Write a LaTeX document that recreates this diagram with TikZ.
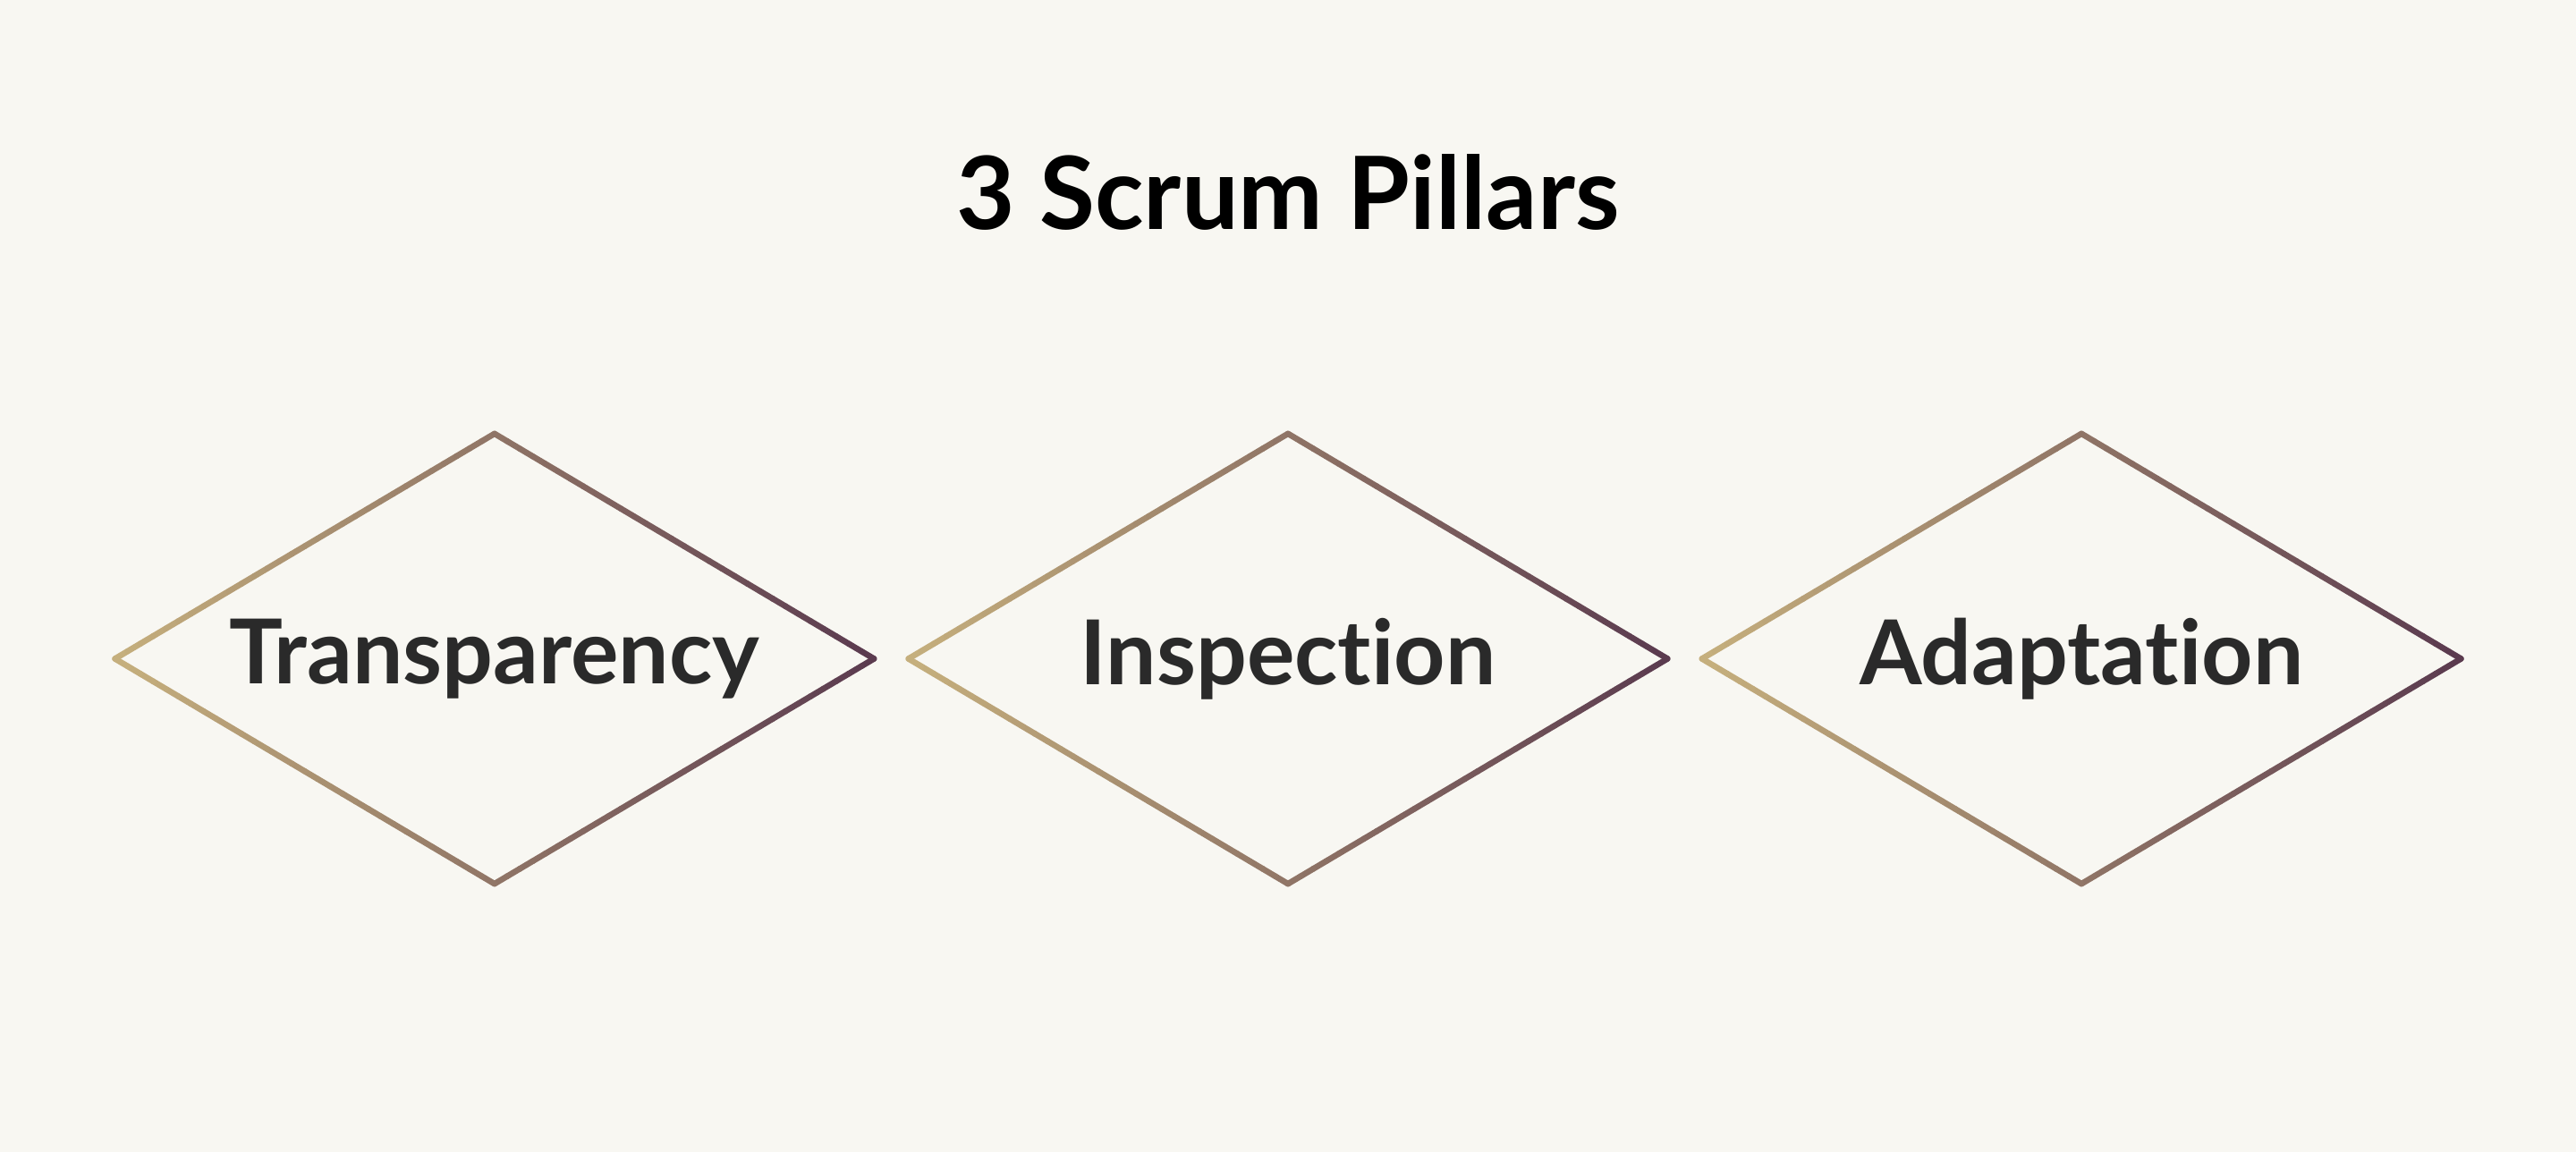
\documentclass[tikz,border=0pt]{standalone}
\usepackage{fontspec}
\setmainfont{Lato}[Ligatures=CommonOff]
\usetikzlibrary{shapes.geometric}
\definecolor{bg}{HTML}{F8F7F2}
\definecolor{tanc}{HTML}{C6B07D}
\definecolor{purc}{HTML}{5A3A4F}
\definecolor{txt}{HTML}{2A2A2A}
\tikzset{
  lbl/.style={font=\bfseries\fontsize{15.5}{18}\selectfont, text=txt, inner sep=0pt},
  ttl/.style={font=\bfseries\fontsize{17.5}{21}\selectfont, text=black, inner sep=0pt},
}
\newcommand{\gedge}[6]{% x1 y1 x2 y2 f1 f2
  \foreach \i in {0,...,29}{
    \pgfmathsetmacro{\xa}{(#1)+((#3)-(#1))*\i/30}
    \pgfmathsetmacro{\ya}{(#2)+((#4)-(#2))*\i/30}
    \pgfmathsetmacro{\xb}{(#1)+((#3)-(#1))*(\i+1)/30}
    \pgfmathsetmacro{\yb}{(#2)+((#4)-(#2))*(\i+1)/30}
    \pgfmathsetmacro{\pp}{100*(#5+(#6-#5)*(\i+0.5)/30)}
    \colorlet{segc}{purc!\pp!tanc}
    \draw[segc, line width=0.036cm, line cap=round] (\xa,\ya) -- (\xb,\yb);
  }}
\newcommand{\gdiamond}[2]{%
  \gedge{#1-231}{#2}{#1}{#2-137}{0}{0.5}
  \gedge{#1}{#2-137}{#1+231}{#2}{0.5}{1}
  \gedge{#1+231}{#2}{#1}{#2+137}{1}{0.5}
  \gedge{#1}{#2+137}{#1-231}{#2}{0.5}{0}}
\begin{document}
\begin{tikzpicture}[x=0.01cm,y=-0.01cm]
\fill[bg] (0,0) rectangle (1568,701);
\useasboundingbox (0,0) rectangle (1568,701);
\node[ttl] (title) at (784,117) {3 Scrum Pillars};
\gdiamond{301}{401}
\gdiamond{784}{401}
\gdiamond{1267}{401}
\node[lbl] (t1) at (301,401) {Transparency};
\node[lbl] (t2) at (784,401) {Inspection};
\node[lbl] (t3) at (1267,401) {Adaptation};
\end{tikzpicture}
\end{document}
